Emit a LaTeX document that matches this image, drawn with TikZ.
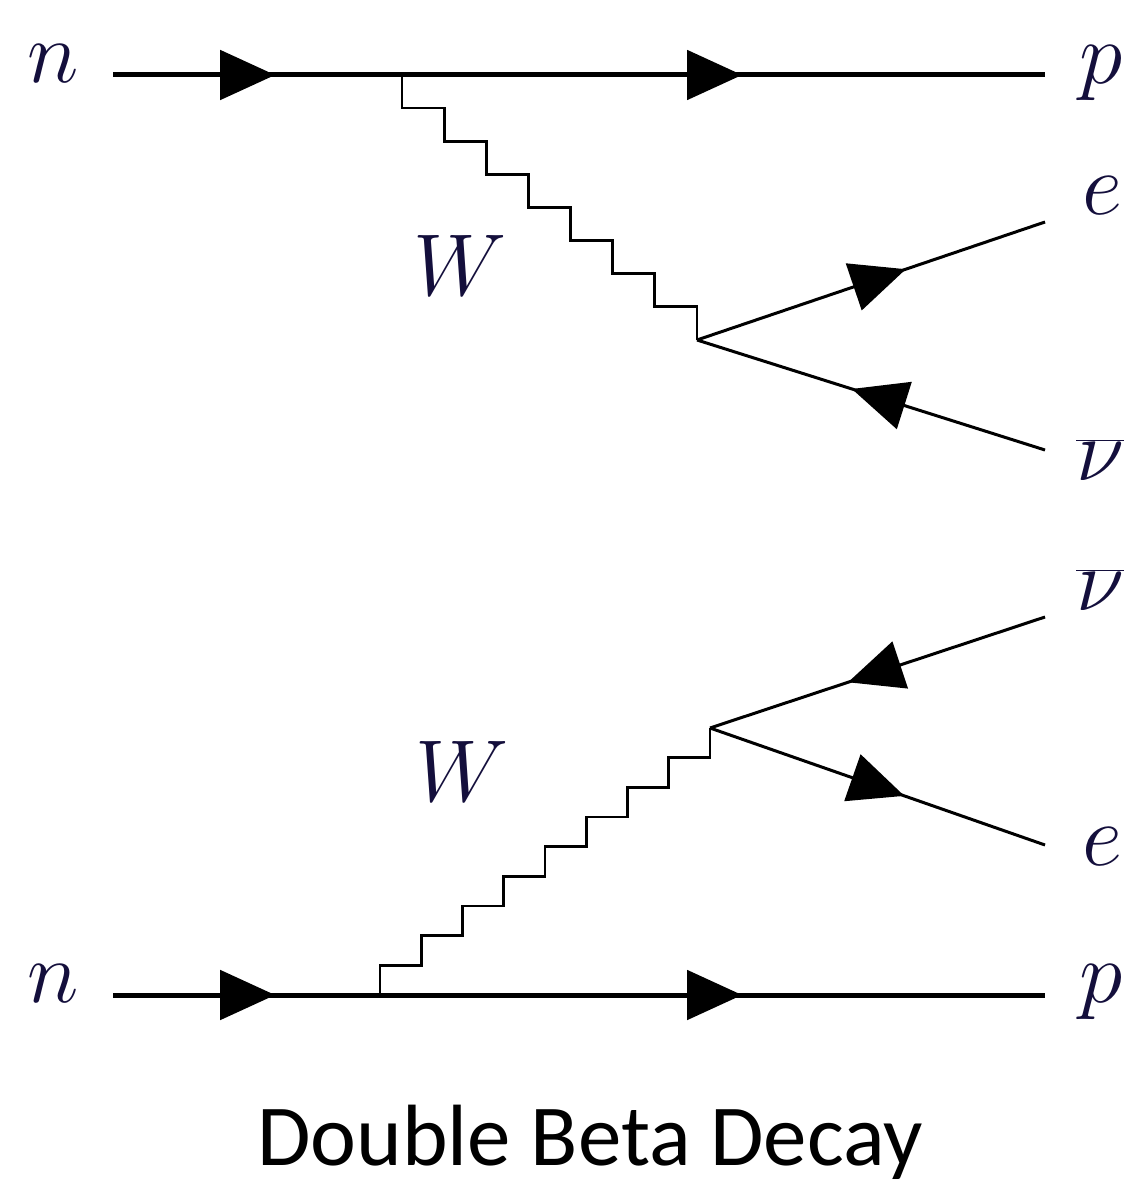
\documentclass[tikz,border=0pt]{standalone}
\usepackage{fix-cm}
\usepackage{fontspec}
\newfontfamily\capfont{Carlito}
\usetikzlibrary{arrows.meta,calc,decorations.markings}
\definecolor{labelink}{RGB}{20,15,60}

\tikzset{
  arrowat/.style={postaction={decorate,decoration={markings,
      mark=at position #1 with {\arrow{Triangle[length=1.1cm,width=0.98cm]}}}}},
  wboson/.style={line width=0.055cm, to path={
      let \p1=(\tikztostart), \p2=(\tikztotarget),
          \n1={(\x2-\x1)/(#1-1)}, \n2={(\y2-\y1)/#1} in
      -- ++(0pt,\n2) \foreach \k in {2,...,#1} { -- ++(\n1,0pt) -- ++(0pt,\n2) }}}
}

\begin{document}
\begin{tikzpicture}[x=0.02cm, y=-0.02cm,
    hline/.style={line width=0.1cm},
    dline/.style={line width=0.06cm},
    lbl/.style={text=labelink, inner sep=0pt, font=\fontsize{50}{60}\selectfont}
  ]
  \useasboundingbox (0,0) rectangle (1145,1185);

  % upper decay
  \coordinate (a1)  at (113,75);
  \coordinate (b1)  at (1045,75);
  \coordinate (w1)  at (402,75);
  \coordinate (v1)  at (697,340);
  \coordinate (e1)  at (1045,222);
  \coordinate (nu1) at (1045,450);
  \node[lbl] (n1)   at (53,64)    {$n$};
  \node[lbl] (p1)   at (1101,73)  {$p$};
  \node[lbl] (le1)  at (1102,196) {$e$};
  \node[lbl] (lnu1) at (1100,460) {$\overline{\nu}$};
  \node[lbl] (W1)   at (460,265)  {$W$};
  \draw[hline, arrowat=0.174, arrowat=0.675] (a1) -- (b1);
  \draw[wboson=8] (w1) to (v1);
  \draw[dline, arrowat=0.60]  (v1)  -- (e1);
  \draw[dline, arrowat=0.555] (nu1) -- (v1);

  % lower decay
  \coordinate (a2)  at (113,995);
  \coordinate (b2)  at (1045,995);
  \coordinate (w2)  at (380,995);
  \coordinate (v2)  at (710,728);
  \coordinate (nu2) at (1045,617);
  \coordinate (e2)  at (1045,845);
  \node[lbl] (n2)   at (53,984)   {$n$};
  \node[lbl] (p2)   at (1101,992) {$p$};
  \node[lbl] (le2)  at (1102,847) {$e$};
  \node[lbl] (lnu2) at (1100,590) {$\overline{\nu}$};
  \node[lbl] (W2)   at (462,771)  {$W$};
  \draw[hline, arrowat=0.174, arrowat=0.675] (a2) -- (b2);
  \draw[wboson=9] (w2) to (v2);
  \draw[dline, arrowat=0.588] (nu2) -- (v2);
  \draw[dline, arrowat=0.58]  (v2)  -- (e2);

  \node[font=\capfont\fontsize{49.5}{58}\selectfont, anchor=base] (cap) at (590,1165) {Double Beta Decay};
\end{tikzpicture}
\end{document}
